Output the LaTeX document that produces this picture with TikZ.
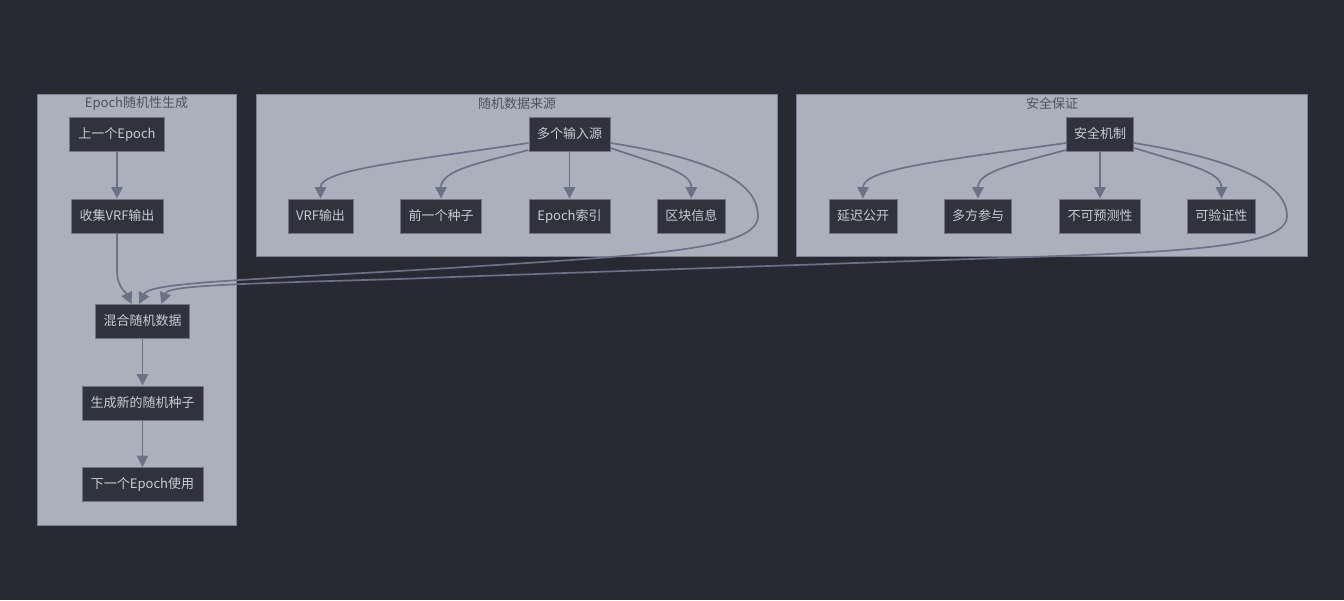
\documentclass[tikz,border=0pt]{standalone}
\usepackage{fontspec}
\setmainfont{Noto Sans CJK SC}
\usetikzlibrary{arrows.meta,calc}
\definecolor{bg}{HTML}{282A33}
\definecolor{clfill}{HTML}{ABB0BD}
\definecolor{clborder}{HTML}{7C8292}
\definecolor{clText}{HTML}{4C5260}
\definecolor{nfill}{HTML}{30333D}
\definecolor{nborder}{HTML}{6E7587}
\definecolor{ntext}{HTML}{C8CCD6}
\definecolor{edge}{HTML}{6B7286}
\begin{document}
\begin{tikzpicture}[x=1pt,y=-1pt,
  cluster/.style={draw=clborder,fill=clfill,line width=1pt},
  cltitle/.style={text=clText,inner sep=0pt,font=\fontsize{13}{15}\selectfont},
  box/.style={draw=nborder,fill=nfill,text=ntext,minimum height=34pt,inner sep=0pt,line width=1pt,font=\fontsize{13}{15}\selectfont,text height=10pt,text depth=2pt},
  link/.style={draw=edge,line width=1.7pt,-{Triangle[length=11.5pt,width=11.5pt]}}]
\fill[bg] (0,0) rectangle (1344,600);
\useasboundingbox (0,0) rectangle (1344,600);
% clusters
\draw[cluster] (37,94) rectangle (236,525);
\draw[cluster] (256,94) rectangle (777,256);
\draw[cluster] (796,94) rectangle (1307,256);
\node[cltitle] (t1) at (136.5,103.5) {Epoch随机性生成};
\node[cltitle] (t2) at (517,103.5) {随机数据来源};
\node[cltitle] (t3) at (1052,103.5) {安全保证};
% left nodes
\node[box,minimum width=95pt] (prev) at (117,134) {上一个Epoch};
\node[box,minimum width=92pt] (collect) at (117,216) {收集VRF输出};
\node[box,minimum width=94pt] (mix) at (142.5,321.5) {混合随机数据};
\node[box,minimum width=121pt] (gen) at (142.5,403) {生成新的随机种子};
\node[box,minimum width=121pt] (next) at (142.5,484.5) {下一个Epoch使用};
% middle nodes
\node[box,minimum width=81pt] (src) at (569.5,134) {多个输入源};
\node[box,minimum width=65pt] (vrf) at (320.5,216) {VRF输出};
\node[box,minimum width=81pt] (seed) at (441,216) {前一个种子};
\node[box,minimum width=81pt] (idx) at (569.5,216) {Epoch索引};
\node[box,minimum width=68pt] (blk) at (691.3,216) {区块信息};
% right nodes
\node[box,minimum width=67pt] (sec) at (1100,134) {安全机制};
\node[box,minimum width=68pt] (delay) at (863,216) {延迟公开};
\node[box,minimum width=67pt] (multi) at (978,216) {多方参与};
\node[box,minimum width=81pt] (unpred) at (1100,216) {不可预测性};
\node[box,minimum width=68pt] (verif) at (1221.4,216) {可验证性};
% waypoints
\coordinate (m1) at (758,216);
\coordinate (m2) at (450,268);
\coordinate (s1) at (1287,216);
\coordinate (s2) at (1000,258);
\coordinate (s3) at (400,279);
% left chain
\draw[link] (prev) -- (collect);
\draw[link] (collect.south) -- (117,270) .. controls (117,288) and (126,292) .. ($(mix.north)+(-11,0)$);
\draw[link] (mix) -- (gen);
\draw[link] (gen) -- (next);
% middle
\draw[link] ($(src.west)+(0,9)$) .. controls (400,162) and (320.5,170) .. (vrf.north);
\draw[link] ($(src.west)+(0,16)$) .. controls (480,163) and (441,170) .. (seed.north);
\draw[link] (src) -- (idx);
\draw[link] ($(src.east)+(0,14)$) .. controls (660,165) and (691.3,172) .. (blk.north);
\draw[link] ($(src.east)+(0,9)$) .. controls (720,160) and (758,185) .. (m1)
  .. controls (758,250) and (650,255) .. (m2)
  .. controls (250,280) and (150,282) .. ($(mix.north)+(-3.5,0)$);
% right
\draw[link] ($(sec.west)+(0,9)$) .. controls (930,162) and (863,170) .. (delay.north);
\draw[link] ($(sec.west)+(0,16)$) .. controls (1010,165) and (978,172) .. (multi.north);
\draw[link] (sec) -- (unpred);
\draw[link] ($(sec.east)+(0,14)$) .. controls (1190,165) and (1221.4,172) .. (verif.north);
\draw[link] ($(sec.east)+(0,9)$) .. controls (1240,160) and (1287,185) .. (s1)
  .. controls (1287,248) and (1180,252) .. (s2)
  .. controls (800,265) and (500,275) .. (s3)
  .. controls (220,284) and (168,286) .. ($(mix.north)+(19,0)$);
\end{tikzpicture}
\end{document}
